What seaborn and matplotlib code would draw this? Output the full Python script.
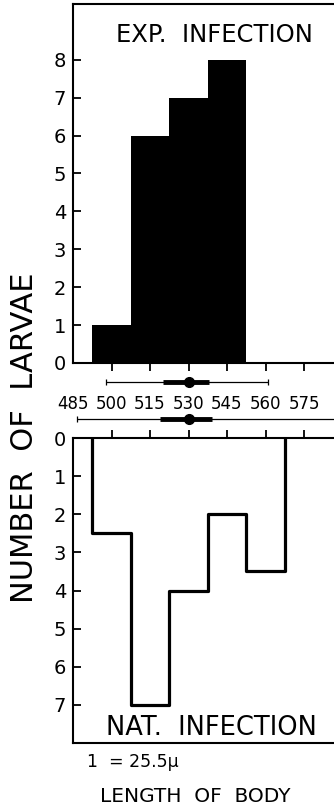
import numpy as np
import pandas as pd
import matplotlib
matplotlib.use('Agg')
import matplotlib.pyplot as plt
import seaborn as sns

# data
ticks = [485, 500, 515, 530, 545, 560, 575]
exp_centers = [500, 515, 530, 545]
exp_counts = [1, 6, 7, 8]
nat_centers = [500, 515, 530, 545, 560]
nat_counts = [2.5, 7, 4, 2, 3.5]
bin_width = 15

# mean, inner range, outer range (drawn below / above the axis)
exp_mean = 530
exp_inner = (520, 538)
exp_outer = (498, 561)
nat_mean = 530
nat_inner = (519, 539)
nat_outer = (486.5, 600)

sns.set_style('ticks')
plt.rcParams['font.family'] = ['DejaVu Sans']
plt.rcParams['axes.linewidth'] = 1.5
for key in ('text.color', 'axes.labelcolor', 'axes.edgecolor', 'xtick.color', 'ytick.color'):
    plt.rcParams[key] = 'black'

fig = plt.figure(figsize=(3.34, 8.09), dpi=100)
W, H = 334, 809

def px_axes(left, top, right, bottom):
    return fig.add_axes([left / W, 1 - bottom / H, (right - left) / W, (bottom - top) / H])

xmax = 590
ax_top = px_axes(73, 4, 73 + (xmax - 485) / 15 * 38.5, 363)
ax_bot = px_axes(73, 438, 73 + (xmax - 485) / 15 * 38.5, 743)

exp_df = pd.DataFrame({'length': exp_centers, 'n': exp_counts})
edges_exp = [c - bin_width / 2 for c in exp_centers] + [exp_centers[-1] + bin_width / 2]
sns.histplot(data=exp_df, x='length', weights='n', bins=edges_exp, color='black',
             alpha=1, linewidth=0, ax=ax_top)

# outline of natural infection histogram, hanging downward
edges_nat = [c - bin_width / 2 for c in nat_centers] + [nat_centers[-1] + bin_width / 2]
nat_df = pd.DataFrame({'length': [edges_nat[0]] + edges_nat,
                       'n': [0] + nat_counts + [0]})
sns.lineplot(data=nat_df, x='length', y='n', estimator=None, sort=False,
             drawstyle='steps-post', color='black', linewidth=2.3, ax=ax_bot)

for ax in (ax_top, ax_bot):
    ax.set_xlim(485, xmax)
    ax.set_xlabel('')
    ax.set_ylabel('')
    ax.spines['right'].set_visible(False)
    ax.tick_params(axis='y', direction='in', length=6, width=1.3, labelsize=14, pad=5)
    ax.tick_params(axis='x', direction='out', length=6, width=1.3)

ax_top.set_ylim(0, 9.47)
ax_top.set_yticks(range(0, 9))
ax_top.set_xticks(ticks)
ax_top.tick_params(axis='x', labelsize=12, pad=17)
ax_top.xaxis.get_major_ticks()[0].tick1line.set_visible(False)

ax_bot.set_ylim(8.0, 0)
ax_bot.set_yticks(range(0, 8))
ax_bot.xaxis.tick_top()
ax_bot.set_xticks(ticks[1:])
ax_bot.tick_params(axis='x', labeltop=False)
ax_bot.spines['top'].set_visible(True)

# mean and ranges
for ax, mean, inner, outer in ((ax_top, exp_mean, exp_inner, exp_outer),
                               (ax_bot, nat_mean, nat_inner, nat_outer)):
    y = -0.5
    ax.errorbar([mean], [y], xerr=[[mean - outer[0]], [outer[1] - mean]], fmt='none',
                ecolor='black', elinewidth=0.9, capsize=2.5, capthick=0.9, clip_on=False)
    ax.plot(list(inner), [y, y], color='black', lw=3.5, solid_capstyle='butt', clip_on=False)
    ax.plot([mean], [y], 'o', color='black', ms=7, clip_on=False)

ax_top.text(0.523, 0.894, 'EXP.  INFECTION', transform=ax_top.transAxes,
            ha='center', va='baseline', fontsize=17.5)
ax_bot.text(0.512, 0.026, 'NAT.  INFECTION', transform=ax_bot.transAxes,
            ha='center', va='baseline', fontsize=18.5)

fig.text(25 / W, 1 - 438 / H, 'NUMBER  OF  LARVAE', rotation=90,
         ha='center', va='center', fontsize=22)
fig.text(87 / W, 1 - 767 / H, '1  = 25.5\u03bc', ha='left', va='baseline', fontsize=12.5)
fig.text(195 / W, 1 - 802 / H, 'LENGTH  OF  BODY', ha='center', va='baseline', fontsize=14.5)

fig.savefig('out.png', dpi=100)
